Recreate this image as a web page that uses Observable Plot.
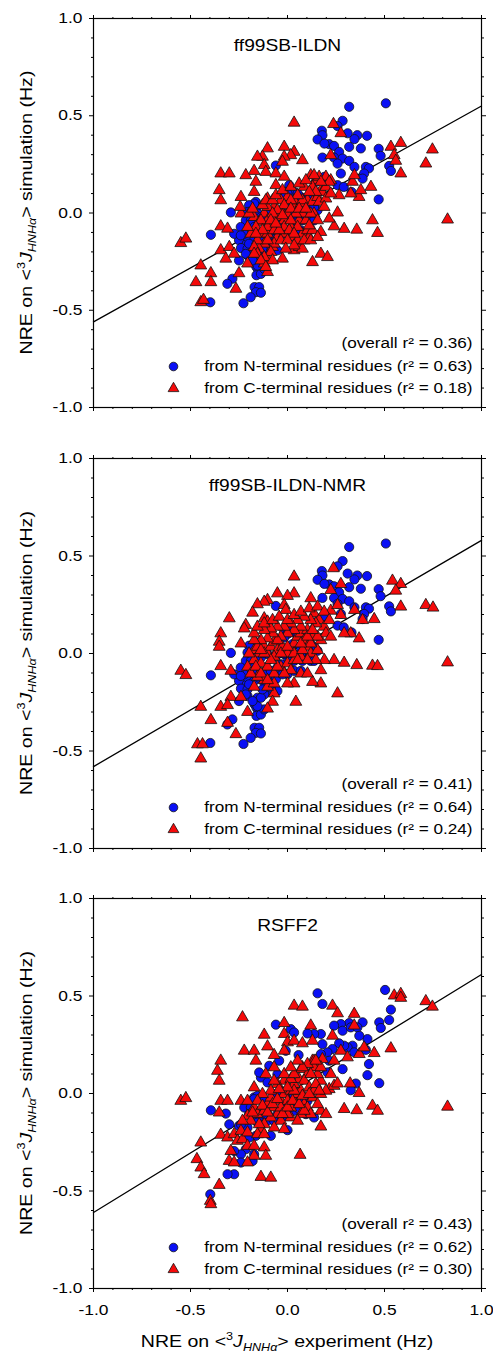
<!DOCTYPE html>
<html>
<head>
<meta charset="utf-8">
<script src="https://cdn.jsdelivr.net/npm/d3@7"></script>
<script src="https://cdn.jsdelivr.net/npm/@observablehq/plot@0.6"></script>
<style>
  body { margin: 0; background: #fff; }
  #chart { width: 493px; }
  #chart svg { display: block; }
</style>
</head>
<body>
<div id="chart"></div>
<script>
// ---------- panel labels & statistics ----------
const panelNames = ["ff99SB-ILDN", "ff99SB-ILDN-NMR", "RSFF2"];
const overallR2 = ["0.36", "0.41", "0.43"];
const nTermR2 = ["0.63", "0.64", "0.62"];
const cTermR2 = ["0.18", "0.24", "0.30"];
// regression line: y at x = -1 and at x = +1
const fitX = [-1, 1];
const fitY = [[-0.56, 0.55], [-0.58, 0.58], [-0.61, 0.61]];

// ---------- axis ticks ----------
const majorTicks = [-1, -0.5, 0, 0.5, 1];
const minorTicks = [-0.9, -0.8, -0.7, -0.6, -0.4, -0.3, -0.2, -0.1, 0.1, 0.2, 0.3, 0.4, 0.6, 0.7, 0.8, 0.9];

// ---------- data: [NRE experiment, NRE simulation] ----------
const nTerm_ILDN = [
  [0.507,0.564],[0.318,0.546],[0.284,0.474],[0.258,0.447],[0.177,0.423],[0.180,0.400],[0.155,0.378],[0.310,0.410],
  [0.360,0.400],[0.410,0.397],[0.345,0.380],[0.215,0.354],[0.240,0.345],[0.190,0.357],[0.318,0.340],[0.266,0.314],
  [0.378,0.332],[0.470,0.330],[0.180,0.285],[0.240,0.285],[0.284,0.280],[0.318,0.268],[0.258,0.254],[0.345,0.237],
  [0.480,0.294],[0.524,0.242],[0.533,0.216],[0.404,0.237],[0.420,0.230],[0.395,0.203],[0.387,0.177],[0.275,0.203],
  [0.258,0.143],[0.290,0.134],[0.330,0.108],[0.470,0.070],[-0.060,0.244],[0.190,0.186],[0.146,0.160],[0.009,0.143],
  [0.034,0.108],[-0.017,0.108],[0.069,0.082],[-0.292,0.003],[-0.395,-0.112],[-0.163,0.057],[-0.158,0.031],[-0.170,-0.003],
  [-0.215,-0.038],[-0.200,-0.090],[-0.250,-0.140],[-0.210,-0.158],[-0.240,-0.180],[-0.250,-0.244],[-0.206,-0.218],[-0.170,-0.260],
  [-0.160,-0.278],[-0.150,-0.295],[-0.160,-0.320],[-0.137,-0.313],[-0.120,-0.287],[-0.284,-0.338],[-0.310,-0.364],[-0.170,-0.381],
  [-0.146,-0.381],[-0.163,-0.407],[-0.137,-0.410],[-0.190,-0.433],[-0.227,-0.464],[-0.398,-0.459],[-0.086,-0.140],[-0.069,-0.106],
  [-0.034,-0.055],[0.017,-0.029],[0.069,-0.020],[0.120,-0.038],[0.155,0.014],
  [-0.172,0.048],[-0.155,-0.003],[-0.189,-0.038],[-0.172,-0.072],[-0.206,-0.124],[-0.223,-0.107],[-0.120,-0.107],[-0.086,-0.124],
  [-0.103,-0.192],[-0.155,-0.227],[-0.120,-0.210],[-0.120,-0.149],[-0.052,-0.072],[0.000,-0.107],[0.034,-0.089],[0.069,-0.089],
  [0.103,-0.021],[0.137,-0.038],[0.077,-0.038],[0.034,-0.038],[0.000,-0.021],[-0.017,-0.003],[-0.052,-0.003],[0.069,0.031],
  [0.095,0.065],[0.112,0.091],[0.052,0.100],[0.000,0.100],[-0.017,0.082],[-0.103,-0.003],[-0.137,-0.021],[-0.241,-0.072],
  [-0.275,-0.107],[-0.241,-0.115],[-0.206,-0.184],[-0.172,-0.141],[-0.052,-0.192],[-0.086,-0.175],[-0.155,-0.270],[-0.137,-0.227],
  [-0.198,0.040],[-0.206,0.005],[-0.180,-0.098],[-0.146,-0.124],[-0.198,-0.158],[-0.215,-0.210],[-0.180,-0.244],[-0.129,-0.184],
  [-0.086,-0.089],[-0.060,-0.132],[-0.026,-0.107],[0.034,-0.003],[0.069,-0.003],[0.120,0.048],[0.137,0.031],[0.026,0.048]
];
const cTerm_ILDN = [
  [0.034,0.464],[0.237,0.457],[0.275,0.410],[0.584,0.360],[0.533,0.340],[0.747,0.326],[0.550,0.297],[0.558,0.268],
  [0.713,0.254],[0.584,0.203],[0.825,-0.034],[0.438,-0.038],[0.464,-0.103],[0.357,-0.086],[0.292,-0.082],[0.240,-0.069],
  [0.258,0.002],[0.369,0.082],[0.378,0.117],[0.430,0.134],[0.326,0.100],[0.335,0.160],[0.345,0.194],[0.223,0.168],
  [0.266,0.091],[0.223,0.297],[0.215,-0.029],[0.172,-0.098],[0.172,-0.210],[0.206,-0.227],[0.129,-0.253],[0.034,0.314],
  [-0.017,0.340],[0.017,0.297],[0.077,0.271],[-0.017,0.289],[-0.026,0.263],[-0.103,0.332],[-0.129,0.289],[-0.155,0.289],
  [-0.120,0.246],[-0.112,0.211],[-0.172,0.216],[-0.215,0.194],[-0.344,0.203],[-0.300,0.203],[-0.352,0.117],[-0.344,0.065],
  [-0.240,0.082],[-0.172,0.108],[-0.163,0.160],[-0.060,0.203],[-0.017,0.186],[-0.060,0.143],[-0.103,0.074],[0.120,0.194],
  [0.146,0.168],[0.129,0.134],[0.172,0.117],[0.086,0.134],[-0.344,-0.069],[-0.309,-0.081],[-0.240,-0.003],[-0.244,0.031],
  [-0.550,-0.155],[-0.524,-0.132],[-0.344,-0.192],[-0.300,-0.175],[-0.275,-0.210],[-0.318,-0.235],[-0.447,-0.270],[-0.395,-0.310],
  [-0.250,-0.310],[-0.472,-0.356],[-0.395,-0.356],[-0.266,-0.390],[-0.447,-0.459],[-0.433,-0.447],[-0.206,-0.260],[-0.120,-0.260],
  [-0.103,-0.235],[-0.026,-0.235],[-0.077,-0.175],[0.034,-0.192],[0.060,-0.175],[0.077,-0.184],
  [-0.172,-0.021],[-0.146,-0.046],[-0.120,-0.003],[-0.103,-0.038],[-0.086,-0.072],[-0.052,-0.021],[-0.034,0.014],[-0.017,-0.038],
  [0.000,-0.003],[0.017,-0.072],[0.034,0.031],[0.060,-0.038],[0.077,-0.107],[0.103,-0.089],[0.112,-0.124],[0.129,-0.089],
  [0.137,-0.003],[0.103,0.065],[0.069,0.048],[0.034,0.065],[0.000,0.082],[-0.034,0.065],[-0.069,0.031],[-0.103,0.031],
  [-0.137,-0.038],[-0.163,-0.072],[-0.137,-0.107],[-0.103,-0.107],[-0.052,-0.124],[-0.017,-0.107],[0.017,-0.124],[0.052,-0.141],
  [0.086,-0.141],[0.120,-0.141],[0.155,-0.124],[-0.069,-0.158],[-0.120,-0.158],[-0.146,-0.184],[-0.155,-0.141],[-0.189,-0.107],
  [-0.206,-0.072],[0.129,0.057],[0.155,0.082],[0.180,0.108],[0.198,0.134],[0.146,0.108],[0.112,0.108],[0.077,0.065],
  [0.052,0.091],[0.017,0.065],[-0.017,0.040],[-0.052,0.014],[-0.077,-0.003],[-0.103,-0.072],[-0.129,-0.089],[-0.017,-0.072],
  [0.009,-0.089],[0.095,-0.038],[0.077,-0.003],[0.043,-0.003],[0.017,-0.038],[-0.069,-0.089],[-0.034,-0.141],[-0.086,-0.201],
  [-0.120,-0.227],[-0.172,-0.175],[-0.155,-0.210],[-0.103,-0.304],
  [-0.198,-0.003],[-0.180,0.022],[-0.129,0.040],[-0.112,0.065],[-0.077,0.065],[-0.060,0.091],[-0.026,0.117],[0.017,0.134],
  [0.060,0.151],[0.095,0.168],[0.163,0.186],[0.198,0.186],[0.215,0.160],[0.172,0.160],[0.137,0.194],[0.163,0.057],
  [0.198,0.074],[0.223,0.100],[0.189,0.031],[0.120,-0.003],[0.155,-0.038],[0.112,-0.064],[0.052,-0.072],[0.034,-0.107],
  [0.000,-0.141],[0.034,-0.167],[-0.009,-0.184],[-0.043,-0.089],[-0.086,-0.038],[-0.060,-0.055],[-0.026,-0.012],[0.017,0.022],
  [0.060,0.022],[0.095,0.022],[-0.163,-0.107],[-0.103,-0.141],[-0.172,-0.210],[-0.137,-0.244],[-0.077,-0.244],[-0.112,-0.278]
];
// N-terminal points read identically in the two upper panels
const nTerm_NMR = nTerm_ILDN;
const cTerm_NMR = [
  [0.237,0.437],[0.034,0.394],[0.275,0.356],[0.541,0.373],[0.584,0.356],[0.558,0.322],[0.713,0.248],[0.750,0.235],
  [0.584,0.240],[0.825,-0.046],[0.438,-0.063],[0.464,-0.065],[0.357,-0.060],[0.292,-0.048],[0.240,-0.034],[0.190,-0.034],
  [0.258,-0.205],[0.172,-0.154],[0.129,-0.146],[0.043,-0.248],[0.369,0.077],[0.326,0.103],[0.292,0.103],[0.447,0.176],
  [0.387,0.171],[0.345,0.223],[0.223,0.219],[0.258,0.248],[0.275,0.197],[0.223,0.325],[0.120,0.283],[0.034,0.308],
  [0.000,0.295],[-0.052,0.308],[-0.017,0.248],[-0.009,0.223],[-0.103,0.274],[-0.120,0.265],[-0.155,0.252],[-0.180,0.209],
  [-0.120,0.180],[-0.103,0.163],[-0.215,0.146],[-0.223,0.128],[-0.300,0.180],[-0.344,0.103],[-0.352,0.060],[-0.352,0.034],
  [-0.240,0.051],[-0.344,-0.065],[-0.292,-0.089],[-0.550,-0.089],[-0.524,-0.111],[-0.292,-0.223],[-0.344,-0.274],[-0.447,-0.274],
  [-0.309,-0.265],[-0.395,-0.342],[-0.309,-0.356],[-0.266,-0.414],[-0.464,-0.466],[-0.438,-0.466],[-0.447,-0.539],[-0.206,-0.300],
  [-0.240,-0.223],[-0.069,-0.205],[-0.077,-0.248],[-0.103,-0.283],
  [-0.172,0.017],[-0.146,0.000],[-0.120,0.034],[-0.103,0.000],[-0.086,0.034],[-0.069,0.060],[-0.052,0.017],[-0.026,0.034],
  [-0.009,0.000],[0.017,0.017],[0.034,0.051],[0.052,0.086],[0.069,0.103],[0.086,0.068],[0.103,0.034],[0.120,0.000],
  [0.146,-0.034],[0.155,0.017],[0.172,0.068],[0.129,0.086],[0.103,0.120],[0.069,0.137],[0.034,0.120],[0.000,0.103],
  [-0.034,0.086],[-0.052,0.068],[-0.077,0.103],[-0.103,0.077],[-0.137,0.068],[-0.155,0.034],[-0.172,-0.034],[-0.137,-0.051],
  [-0.103,-0.068],[-0.069,-0.103],[-0.034,-0.068],[0.000,-0.051],[0.034,-0.034],[0.069,-0.017],[0.103,-0.034],[-0.120,-0.137],
  [-0.155,-0.120],[-0.172,-0.171],[-0.103,-0.171],[-0.069,-0.154],[0.069,-0.103],[0.137,0.205],[0.163,0.171],[0.189,0.137],
  [0.146,0.154],[0.120,0.171],[0.086,0.188],[0.052,0.171],[0.017,0.154],[-0.017,0.137],[-0.052,0.137],[-0.086,0.128],
  [-0.120,0.120],[-0.172,0.068],[-0.198,0.000],[-0.206,-0.068],[-0.189,-0.103],[-0.069,-0.017],[0.000,0.000],[0.034,0.000],
  [0.172,-0.086],[0.103,-0.103],[0.034,-0.154],[0.000,-0.154],
  [-0.172,0.103],[-0.155,0.137],[-0.120,0.154],[-0.077,0.171],[-0.043,0.188],[0.000,0.171],[0.034,0.197],[0.069,0.214],
  [0.112,0.231],[0.155,0.240],[0.189,0.214],[0.215,0.171],[0.198,0.103],[0.223,0.086],[0.155,0.086],[0.120,0.051],
  [0.077,0.017],[0.052,-0.034],[0.017,-0.086],[-0.017,-0.103],[-0.052,-0.068],[-0.086,-0.034],[-0.120,0.000],[-0.137,0.017],
  [-0.163,-0.068],[-0.137,-0.103],[-0.103,-0.137],[-0.034,0.000],[0.000,0.034],[0.069,0.051],[0.103,0.086],[0.129,0.120]
];
const nTerm_RSFF2 = [
  [0.503,0.531],[0.155,0.514],[0.180,0.459],[0.533,0.430],[0.524,0.377],[0.473,0.365],[0.481,0.336],[0.387,0.365],
  [0.318,0.361],[0.275,0.356],[0.240,0.348],[0.284,0.322],[0.326,0.339],[0.360,0.339],[0.412,0.279],[0.370,0.296],
  [0.335,0.245],[0.310,0.236],[0.344,0.211],[0.404,0.224],[0.292,0.245],[0.266,0.257],[0.232,0.228],[0.206,0.211],
  [0.172,0.305],[0.137,0.305],[0.103,0.308],[0.180,0.253],[0.172,0.202],[0.215,0.168],[0.206,0.108],[0.284,0.125],
  [0.420,0.151],[0.412,0.094],[0.473,0.053],[0.352,0.051],[0.326,0.017],[-0.060,0.353],[0.017,0.330],[0.034,0.313],
  [0.057,0.197],[-0.009,0.219],[-0.043,0.168],[-0.094,0.142],[-0.137,0.082],[-0.103,0.057],[-0.146,0.108],[-0.052,0.099],
  [-0.395,-0.086],[-0.318,-0.103],[-0.172,-0.020],[-0.223,-0.072],[-0.300,-0.158],[-0.250,-0.166],[-0.206,-0.175],[-0.163,-0.217],
  [-0.215,-0.286],[-0.240,-0.312],[-0.180,-0.346],[-0.240,-0.354],[-0.275,-0.414],[-0.309,-0.414],[-0.398,-0.517],[0.000,-0.188],
  [-0.086,-0.217],[0.137,-0.123],
  [-0.155,-0.012],[-0.120,-0.038],[-0.069,-0.003],[-0.034,0.014],[0.000,0.005],[0.017,-0.003],[0.034,-0.012],[0.069,-0.029],
  [0.103,-0.038],[-0.189,-0.072],[-0.172,-0.106],[-0.137,-0.123],[-0.103,-0.140],[-0.052,-0.106],[-0.017,-0.072],[0.034,-0.089],
  [-0.172,-0.029],[-0.198,-0.106],[-0.155,-0.149],[-0.120,-0.106],[-0.069,-0.140],[-0.026,-0.123],[0.009,-0.063],[0.060,-0.080],
  [0.095,-0.106],[-0.240,-0.158],[-0.198,-0.226],[-0.275,-0.295],[-0.172,-0.312],[0.034,-0.046]
];
const cTerm_RSFF2 = [
  [-0.232,0.390],[0.034,0.450],[0.077,0.445],[0.232,0.450],[0.344,0.408],[0.258,0.411],[0.550,0.502],[0.584,0.510],
  [0.584,0.490],[0.713,0.473],[0.747,0.445],[0.533,0.231],[0.825,-0.068],[0.438,-0.063],[0.464,-0.089],[0.357,-0.086],
  [0.292,-0.080],[0.369,0.002],[0.323,0.051],[0.344,0.348],[0.447,0.207],[0.370,0.202],[0.215,0.022],[0.240,0.039],
  [0.172,-0.089],[0.198,-0.106],[0.172,-0.170],[0.065,-0.315],[-0.137,-0.428],[-0.086,-0.432],[-0.223,0.219],[-0.172,0.219],
  [-0.163,0.168],[-0.120,0.301],[-0.103,0.241],[-0.069,0.197],[-0.017,0.361],[-0.017,0.305],[0.000,0.262],[-0.017,0.219],
  [0.034,0.270],[0.077,0.257],[0.120,0.348],[0.129,0.270],[0.129,0.168],[0.069,0.125],[0.103,0.099],[-0.344,0.168],
  [-0.361,0.116],[-0.352,0.065],[-0.550,-0.038],[-0.524,-0.024],[-0.344,-0.038],[-0.309,-0.038],[-0.352,-0.098],[-0.240,-0.038],
  [-0.447,-0.252],[-0.344,-0.212],[-0.309,-0.226],[-0.292,-0.295],[-0.275,-0.209],[-0.258,-0.243],[-0.232,-0.235],[-0.206,-0.269],
  [-0.172,-0.269],[-0.120,-0.277],[-0.112,-0.320],[-0.172,-0.320],[-0.206,-0.354],[-0.467,-0.337],[-0.447,-0.380],[-0.430,-0.414],
  [-0.352,-0.469],[-0.398,-0.551],[-0.395,-0.568],[-0.301,-0.346],[-0.275,-0.354],
  [0.232,0.296],[0.275,0.219],[0.180,0.176],[0.223,0.099],[0.258,0.051],[0.309,0.185],[0.395,0.236],[0.137,0.168],
  [0.163,0.134],[0.240,0.168],
  [-0.172,-0.072],[-0.155,-0.106],[-0.120,-0.089],[-0.103,-0.055],[-0.086,-0.021],[-0.069,-0.072],[-0.052,-0.106],[-0.034,-0.038],
  [-0.017,-0.003],[0.000,-0.038],[0.017,-0.072],[0.034,-0.038],[0.052,-0.003],[0.069,0.014],[0.086,-0.055],[0.103,-0.072],
  [0.129,-0.021],[0.155,-0.055],[0.120,-0.106],[0.069,-0.106],[0.017,-0.123],[-0.034,-0.140],[-0.086,-0.123],[-0.120,-0.158],
  [-0.137,-0.183],[-0.069,-0.175],[-0.017,-0.183],[0.017,0.014],[0.034,0.048],[0.060,0.074],[0.086,0.065],[0.112,0.031],
  [0.137,0.014],[0.172,-0.003],[0.198,0.014],[0.172,0.065],[0.155,0.099],[0.137,0.134],[0.172,0.134],[0.103,0.151],
  [-0.017,0.065],[-0.052,0.048],[0.017,0.074],[-0.206,-0.115],[-0.189,-0.140],[-0.146,-0.158],[0.000,-0.106],[0.052,-0.140],
  [0.086,-0.089],[-0.034,-0.072],[-0.086,0.014],[-0.129,-0.003],
  [-0.155,-0.038],[-0.129,-0.063],[-0.103,-0.098],[-0.077,-0.055],[-0.052,-0.029],[-0.026,-0.106],[0.000,-0.072],[0.026,-0.038],
  [0.060,-0.055],[0.077,-0.012],[0.112,-0.003],[0.146,0.048],[0.163,0.014],[0.034,0.014],[0.000,0.031],[-0.043,0.022],
  [-0.069,0.065],[-0.017,0.099],[0.034,0.099],[0.077,0.134],[0.120,0.099],[0.146,0.168],[0.052,0.168],[0.017,0.134],
  [-0.069,0.134],[-0.112,0.099],[-0.172,0.031],[-0.206,-0.038],[-0.180,-0.098],[-0.232,-0.140],[-0.240,-0.192],[-0.206,-0.200],
  [-0.155,-0.209],[-0.120,-0.209]
];

const nTermSets = [nTerm_ILDN, nTerm_NMR, nTerm_RSFF2];
const cTermSets = [cTerm_ILDN, cTerm_NMR, cTerm_RSFF2];

// ---------- layout ----------
const FONT = "Arial, 'Liberation Sans', Helvetica, sans-serif";
const STRETCH = 1.2;          // the original lettering is wide for its height
const svgHeights = [440, 440, 475];
const bottoms = [33, 32, 67];
const container = document.getElementById("chart");

const fmt = d => d.toFixed(1);
const blank = () => "";
const BLUE = "#0a10f5", RED = "#f50a0a", EDGE = "#111";

function addAxisTitle(svg, x, y, rotate, tailText) {
  const t = d3.select(svg).append("text")
    .attr("transform", `translate(${x},${y})` + (rotate ? " rotate(-90)" : "") + ` scale(${STRETCH},1)`)
    .attr("text-anchor", "middle")
    .attr("font-family", FONT)
    .attr("font-size", 16.3)
    .attr("fill", "black");
  t.append("tspan").text("NRE on <");
  t.append("tspan").attr("font-size", 10.5).attr("dy", -7).text("3");
  t.append("tspan").attr("font-style", "italic").attr("dy", 7).text("J");
  t.append("tspan").attr("font-style", "italic").attr("font-size", 10.5).attr("dy", 4).text("HNHα");
  t.append("tspan").attr("dy", -4).text(">" + tailText);
}

panelNames.forEach((name, i) => {
  const last = i === panelNames.length - 1;
  const fit = fitX.map((x, k) => ({x, y: fitY[i][k]}));
  const legendText = {frameAnchor: "bottom-right", dx: -9, textAnchor: "end", lineAnchor: "middle", fontSize: 14.3, fill: "black"};
  const plot = Plot.plot({
    width: 493,
    height: svgHeights[i],
    marginLeft: 93,
    marginRight: 12,
    marginTop: 18,
    marginBottom: bottoms[i],
    x: {domain: [-1, 1]},
    y: {domain: [-1, 1]},
    style: {fontFamily: FONT, fontSize: "14.5px", color: "black", background: "white", overflow: "visible"},
    marks: [
      // minor & major ticks on all four sides
      Plot.axisY(minorTicks, {anchor: "left", tickSize: 2, tickFormat: blank, label: null}),
      Plot.axisY(majorTicks, {anchor: "left", tickSize: 4, tickPadding: 7, tickFormat: fmt, label: null, fontSize: 14.5}),
      Plot.axisY(minorTicks, {anchor: "right", tickSize: 2, tickFormat: blank, label: null}),
      Plot.axisY(majorTicks, {anchor: "right", tickSize: 4, tickFormat: blank, label: null}),
      Plot.axisX(minorTicks, {anchor: "top", tickSize: 2, tickFormat: blank, label: null}),
      Plot.axisX(majorTicks, {anchor: "top", tickSize: 4, tickFormat: blank, label: null}),
      Plot.axisX(minorTicks, {anchor: "bottom", tickSize: 2, tickFormat: blank, label: null}),
      Plot.axisX(majorTicks, {anchor: "bottom", tickSize: 4, tickPadding: 12, tickFormat: last ? fmt : blank, label: null, fontSize: 14.5}),
      Plot.frame({stroke: "black", strokeWidth: 1.2}),
      Plot.line(fit, {x: "x", y: "y", stroke: "black", strokeWidth: 1.3}),
      Plot.dot(nTermSets[i], {x: d => d[0], y: d => d[1], r: 4.6, fill: BLUE, stroke: EDGE, strokeWidth: 0.8}),
      Plot.dot(cTermSets[i], {x: d => d[0], y: d => d[1], symbol: "triangle", r: 4.4, fill: RED, stroke: EDGE, strokeWidth: 0.8}),
      // panel title
      Plot.text([name], {frameAnchor: "top", dy: 27, lineAnchor: "middle", fontSize: 16, fill: "black"}),
      // legend
      Plot.text([`(overall r² = ${overallR2[i]})`], {...legendText, dy: -64}),
      Plot.text([`from N-terminal residues (r² = ${nTermR2[i]})`], {...legendText, dy: -41}),
      Plot.text([`from C-terminal residues (r² = ${cTermR2[i]})`], {...legendText, dy: -19}),
      Plot.dot([0], {frameAnchor: "bottom-left", dx: 80, dy: -41, r: 4.3, fill: BLUE, stroke: EDGE, strokeWidth: 0.8}),
      Plot.dot([0], {frameAnchor: "bottom-left", dx: 80, dy: -19, symbol: "triangle", r: 4.0, fill: RED, stroke: EDGE, strokeWidth: 0.8})
    ]
  });
  // widen the lettering around each text's own anchor point
  d3.select(plot).selectAll("text").each(function () {
    const tr = this.getAttribute("transform");
    if (tr) {
      this.setAttribute("transform", `${tr} scale(${STRETCH},1)`);
    } else {
      const x = +this.getAttribute("x") || 0, y = +this.getAttribute("y") || 0;
      this.removeAttribute("x"); this.removeAttribute("y");
      this.setAttribute("transform", `translate(${x},${y}) scale(${STRETCH},1)`);
    }
  });
  const xs = plot.scale("x"), ys = plot.scale("y");
  addAxisTitle(plot, 32, ys.apply(0), true, " simulation (Hz)");
  if (last) addAxisTitle(plot, xs.apply(0), svgHeights[i] - 8, false, " experiment (Hz)");
  container.appendChild(plot);
});
</script>
</body>
</html>
